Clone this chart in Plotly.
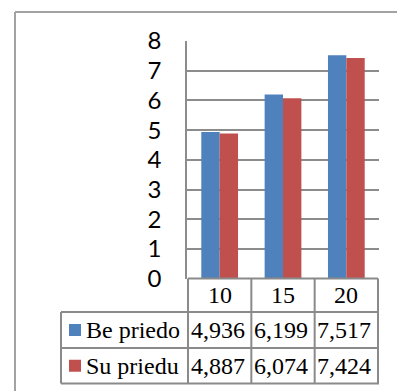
import plotly.graph_objects as go

# Data
categories = ["10", "15", "20"]
series_names = ["Be priedo", "Su priedu"]
be_priedo = [4.936, 6.199, 7.517]
su_priedu = [4.887, 6.074, 7.424]
y_ticks = [0, 1, 2, 3, 4, 5, 6, 7, 8]

W, H = 397, 391
BLUE, RED = "#4f81bd", "#c0504d"
GRID = "#8c8c8c"
TABLE_LINE = "#8a8a8a"
SERIF = "Liberation Serif"
TABLE_SIZE = 24


def px(x):
    return x / W


def py(y):
    return 1 - y / H


# plot-area and data-table geometry (pixels)
PLOT_L, PLOT_R = 187, 379
PLOT_T, PLOT_B = 41, 278.6
ROW1_B, ROW2_B, ROW3_B = 312, 348, 383.5
LEG_L = 61

fig = go.Figure()
series_values = [be_priedo, su_priedu]
colors = [BLUE, RED]
for name, vals, col in zip(series_names, series_values, colors):
    fig.add_trace(go.Bar(x=categories, y=vals, name=name, marker=dict(color=col, line=dict(width=0))))

shapes = []
line = dict(color=TABLE_LINE, width=2)

# outer chart frame (left and top edges)
shapes.append(dict(type="line", xref="paper", yref="paper", x0=px(15), x1=1.05, y0=py(12), y1=py(12),
                   line=dict(color="#a3a3a3", width=2)))
shapes.append(dict(type="line", xref="paper", yref="paper", x0=px(15), x1=px(15), y0=py(12), y1=-0.05,
                   line=dict(color="#a3a3a3", width=2)))

# data table: horizontal rules
shapes.append(dict(type="line", xref="x", yref="paper", x0=-0.5, x1=2.5, y0=py(PLOT_B), y1=py(PLOT_B), line=line))
for yb in (ROW1_B, ROW2_B, ROW3_B):
    shapes.append(dict(type="line", xref="paper", yref="paper", x0=px(LEG_L), x1=px(PLOT_R),
                       y0=py(yb), y1=py(yb), line=line))
# data table: vertical rules at category boundaries
for xb in (-0.5, 0.5, 1.5, 2.5):
    shapes.append(dict(type="line", xref="x", yref="paper", x0=xb, x1=xb,
                       y0=py(PLOT_B), y1=py(ROW3_B), line=line))
shapes.append(dict(type="line", xref="paper", yref="paper", x0=px(LEG_L), x1=px(LEG_L),
                   y0=py(ROW1_B), y1=py(ROW3_B), line=line))

annotations = []
# category header row
for i, c in enumerate(categories):
    annotations.append(dict(x=i, y=py((PLOT_B + ROW1_B) / 2), xref="x", yref="paper", text=c,
                            showarrow=False, font=dict(family=SERIF, size=TABLE_SIZE, color="black"),
                            xanchor="center", yanchor="middle"))

# series rows: legend key, name, and values
row_bounds = [(ROW1_B, ROW2_B), (ROW2_B, ROW3_B)]
for (top, bot), name, vals, col in zip(row_bounds, series_names, series_values, colors):
    yc = (top + bot) / 2
    shapes.append(dict(type="rect", xref="paper", yref="paper", x0=px(69), x1=px(81),
                       y0=py(yc - 6), y1=py(yc + 6), fillcolor=col, line=dict(width=0)))
    annotations.append(dict(x=px(84), y=py(yc), xref="paper", yref="paper", text=name,
                            showarrow=False, font=dict(family=SERIF, size=TABLE_SIZE, color="black"),
                            xanchor="left", yanchor="middle"))
    for i, v in enumerate(vals):
        annotations.append(dict(x=i - 0.03, y=py(yc), xref="x", yref="paper",
                                text=f"{v:.3f}".replace(".", ","),
                                showarrow=False, font=dict(family=SERIF, size=TABLE_SIZE, color="black"),
                                xanchor="center", yanchor="middle"))

fig.update_layout(
    width=W, height=H, autosize=False,
    margin=dict(l=0, r=0, t=0, b=0),
    paper_bgcolor="white", plot_bgcolor="white",
    barmode="group", bargap=0.42, bargroupgap=0,
    showlegend=False,
    shapes=shapes, annotations=annotations,
    xaxis=dict(domain=[px(PLOT_L), px(PLOT_R)], showticklabels=False, showgrid=False,
               zeroline=False, showline=False, ticks="", automargin=False),
    yaxis=dict(domain=[py(PLOT_B), py(PLOT_T)], range=[0, 8], tickvals=y_ticks,
               showgrid=True, gridcolor=GRID, gridwidth=1.5, zeroline=False,
               showline=True, linecolor=GRID, linewidth=1.5, ticks="",
               ticklabelstandoff=19, automargin=False,
               tickfont=dict(family="Lato", size=24, color="black")),
)

fig.write_html("out.html")
